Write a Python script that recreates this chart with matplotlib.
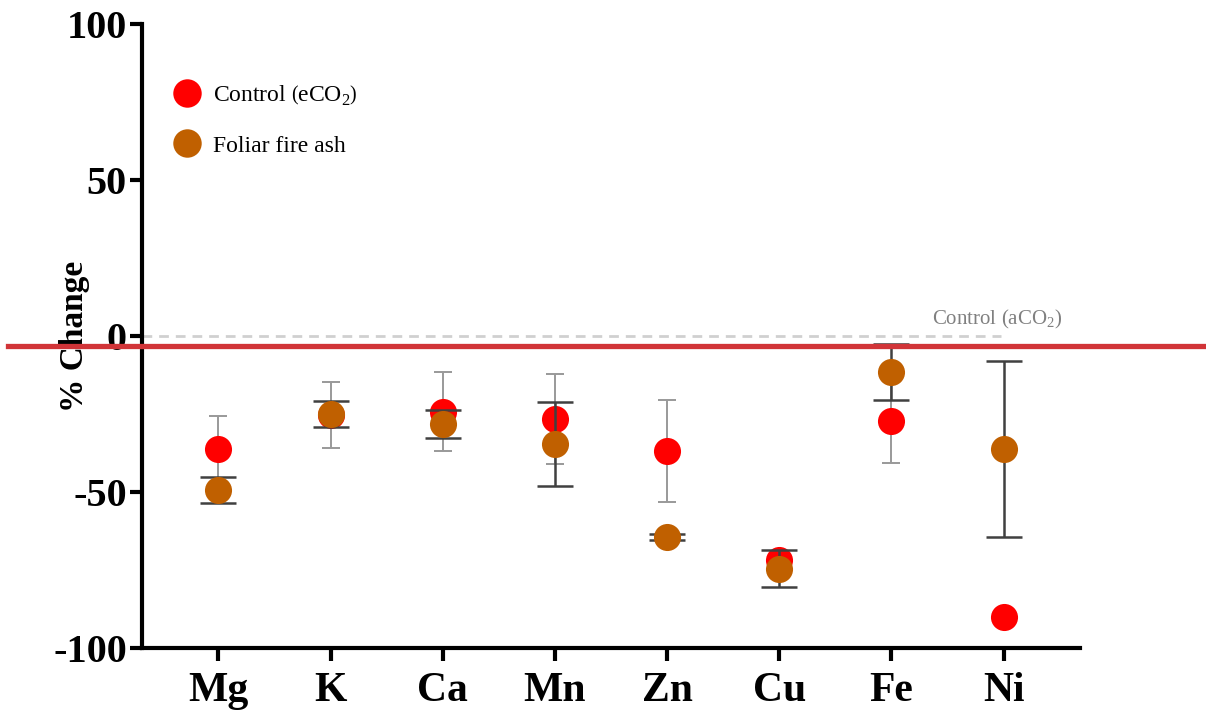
import matplotlib
matplotlib.use('Agg')
import matplotlib.pyplot as plt
from matplotlib.transforms import blended_transform_factory

plt.rcParams['font.family'] = ['Liberation Serif', 'DejaVu Serif']
plt.rcParams['mathtext.fontset'] = 'custom'
plt.rcParams['mathtext.rm'] = 'Liberation Serif'
plt.rcParams['axes.unicode_minus'] = False

elements = ['Mg', 'K', 'Ca', 'Mn', 'Zn', 'Cu', 'Fe', 'Ni']
control_mean = [-36.2, -25.2, -24.2, -26.6, -36.9, -71.8, -27.2, -90.1]
control_err = [10.6, 10.6, 12.7, 14.3, 16.3, 1.0, 13.5, 1.5]
ash_mean = [-49.4, -25.0, -28.2, -34.6, -64.4, -74.6, -11.5, -36.2]
ash_err = [4.2, 4.3, 4.6, 13.6, 1.0, 5.9, 9.0, 28.3]
ref_level = -3.2

x = list(range(len(elements)))

fig = plt.figure(figsize=(12.06, 7.10), dpi=100)
ax = fig.add_axes([0.1178, 0.0873, 0.7777, 0.8789])

# dashed zero line (aCO2 control)
ax.plot([-0.68, 6.98], [0, 0], color='#d0d0d0', lw=2, dashes=(3.5, 2.5), zorder=1)
ax.text(7.52, 1.5, 'Control (aCO$_2$)', color='#808080', fontsize=15,
        ha='right', va='bottom')

ax.errorbar(x, control_mean, yerr=control_err, fmt='none', ecolor='#999999',
            elinewidth=1.4, capsize=6.5, capthick=1.4, zorder=2)
ax.plot(x, control_mean, 'o', color='#ff0000', ms=19.5, mec='none', zorder=3,
        label='Control $\\left(\\mathrm{eCO_2}\\right)$')
ax.errorbar(x, ash_mean, yerr=ash_err, fmt='none', ecolor='#404040',
            elinewidth=1.8, capsize=13, capthick=1.8, zorder=4)
ax.plot(x, ash_mean, 'o', color='#c06000', ms=19.5, mec='none', zorder=5,
        label='Foliar fire ash')

# red reference line across the whole figure
tr = blended_transform_factory(fig.transFigure, ax.transData)
ax.plot([0.007, 1.0], [ref_level, ref_level], color='#d13438', lw=3.8,
        transform=tr, clip_on=False, zorder=6)

ax.set_xlim(-0.68, 7.68)
ax.set_ylim(-100, 100)
ax.set_yticks([-100, -50, 0, 50, 100])
ax.set_xticks(x)
ax.set_xticklabels(elements)

for s in ['top', 'right']:
    ax.spines[s].set_visible(False)
for s in ['left', 'bottom']:
    ax.spines[s].set_linewidth(3)

ax.tick_params(axis='both', width=3, length=9, direction='out')
ax.tick_params(axis='y', labelsize=29, pad=2)
ax.tick_params(axis='x', labelsize=30, pad=8)
for lab in ax.get_xticklabels() + ax.get_yticklabels():
    lab.set_fontweight('bold')

ax.set_ylabel('% Change', fontsize=24, fontweight='bold')
ax.yaxis.set_label_coords(-0.056, 0.5)

ax.legend(loc='upper left', bbox_to_anchor=(0.006, 0.94), frameon=False,
          fontsize=17, markerscale=1.05, handletextpad=0.35, labelspacing=1.2,
          borderaxespad=0.5, handlelength=1.5)

fig.savefig('out.png', dpi=100)
